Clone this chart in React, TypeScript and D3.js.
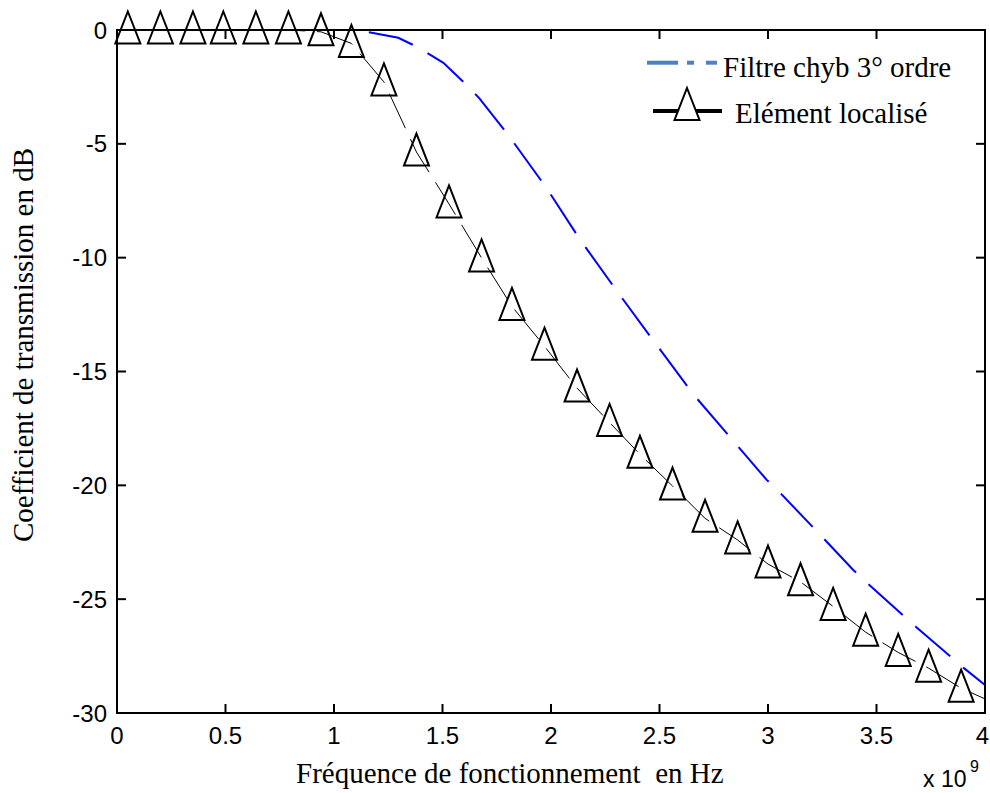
import React from "react";
import * as d3 from "d3";

// Filtre chyb 3° ordre (blue dashed curve), x in GHz (x 10^9 Hz), y in dB
const chebX = [0, 1.083, 1.174, 1.296, 1.381, 1.504, 1.612, 1.67, 1.803, 1.977, 2.137, 2.31, 2.484, 2.66, 2.853, 2.994, 3.051, 3.255, 3.393, 3.462, 3.681, 3.903, 4.0];
const chebY = [0, 0, -0.12, -0.34, -0.73, -1.44, -2.42, -3.0, -4.61, -6.91, -9.25, -11.55, -13.8, -16.05, -18.19, -19.76, -20.28, -22.32, -23.72, -24.33, -26.21, -28.03, -28.77];

// Elément localisé (markers)
const localX = [0.05, 0.2, 0.35, 0.49, 0.64, 0.79, 0.94, 1.08, 1.23, 1.38, 1.53, 1.68, 1.82, 1.97, 2.12, 2.27, 2.41, 2.56, 2.71, 2.86, 3.0, 3.15, 3.3, 3.45, 3.6, 3.74, 3.89];
const localY = [0, 0, 0, 0, 0, 0, -0.08, -0.59, -2.28, -5.36, -7.64, -10.01, -12.14, -13.89, -15.73, -17.24, -18.64, -20.03, -21.45, -22.4, -23.46, -24.24, -25.32, -26.45, -27.34, -28.03, -28.91];
// line ends of the same series
const localLineStart = [0, 0];
const localLineEnd = [4.0, -29.38];

const xTicks = [0, 0.5, 1, 1.5, 2, 2.5, 3, 3.5, 4];
const xTickLabels = ["0", "0.5", "1", "1.5", "2", "2.5", "3", "3.5", "4"];
const yTicks = [0, -5, -10, -15, -20, -25, -30];
const yTickLabels = ["0", "-5", "-10", "-15", "-20", "-25", "-30"];

const legendLabels = ["Filtre chyb 3° ordre", "Elément localisé"];
const xLabel = "Fréquence de fonctionnement  en Hz";
const yLabel = "Coefficient de transmission en dB";

const W = 990;
const H = 793;
const L = 117, R = 985, T = 30, B = 713;

const SERIF = "'Liberation Serif', 'Times New Roman', serif";
const SANS = "'Liberation Sans', Arial, sans-serif";

function triPath(cx: number, cy: number) {
  const hw = 12.5, hh = 16, off = 2.5;
  return `M${cx},${cy - hh - off} L${cx + hw},${cy + hh - off} L${cx - hw},${cy + hh - off} Z`;
}

export default function App() {
  const x = d3.scaleLinear().domain([0, 4]).range([L, R]);
  const y = d3.scaleLinear().domain([0, -30]).range([T, B]);

  const cheb = chebX.map((v, i) => [v, chebY[i]] as [number, number]);
  const local = localX.map((v, i) => [v, localY[i]] as [number, number]);
  const localLine = [localLineStart as [number, number], ...local, localLineEnd as [number, number]];

  const line = d3
    .line<[number, number]>()
    .x((d) => x(d[0]))
    .y((d) => y(d[1]))
    .curve(d3.curveLinear);

  const tickLen = 9;

  return (
    <svg width={W} height={H} style={{ position: "absolute", left: 0, top: 0, background: "#fff" }}>
      <rect x={0} y={0} width={W} height={H} fill="#fff" />
      {/* data */}
      <path d={line(cheb) || ""} fill="none" stroke="#0000ff" strokeWidth={2} strokeDasharray="46,17" />
      <path d={line(localLine) || ""} fill="none" stroke="#000" strokeWidth={1} strokeDasharray="38,12" />
      {local.map((d, i) => (
        <path key={i} d={triPath(x(d[0]), y(d[1]))} fill="none" stroke="#000" strokeWidth={2} strokeLinejoin="miter" />
      ))}

      {/* axes box */}
      <rect x={L} y={T} width={R - L} height={B - T} fill="none" stroke="#000" strokeWidth={2} />
      {xTicks.map((t, i) => (
        <g key={"xt" + i}>
          <line x1={x(t)} x2={x(t)} y1={B} y2={B - tickLen} stroke="#000" strokeWidth={2} />
          <line x1={x(t)} x2={x(t)} y1={T} y2={T + tickLen} stroke="#000" strokeWidth={2} />
          <text
            x={i === xTicks.length - 1 ? x(t) + 4 : x(t)}
            y={744}
            textAnchor={i === xTicks.length - 1 ? "end" : "middle"}
            fontFamily={SANS}
            fontSize={24}
            fill="#000"
          >
            {xTickLabels[i]}
          </text>
        </g>
      ))}
      {yTicks.map((t, i) => (
        <g key={"yt" + i}>
          <line x1={L} x2={L + tickLen} y1={y(t)} y2={y(t)} stroke="#000" strokeWidth={2} />
          <line x1={R} x2={R - tickLen} y1={y(t)} y2={y(t)} stroke="#000" strokeWidth={2} />
          <text x={107} y={y(t) + 8.5} textAnchor="end" fontFamily={SANS} fontSize={24} fill="#000">
            {yTickLabels[i]}
          </text>
        </g>
      ))}

      {/* exponent */}
      <text x={923} y={787} fontFamily={SANS} fontSize={23} fill="#000">x 10</text>
      <text x={970} y={772} fontFamily={SANS} fontSize={16} fill="#000">9</text>

      {/* axis labels */}
      <text x={296} y={783} fontFamily={SERIF} fontSize={29} fill="#000" style={{ whiteSpace: "pre" }}>
        {xLabel}
      </text>
      <text
        transform={`translate(33,345) rotate(-90)`}
        textAnchor="middle"
        fontFamily={SERIF}
        fontSize={29}
        fill="#000"
      >
        {yLabel}
      </text>

      {/* legend */}
      <line x1={647} x2={678} y1={62.7} y2={62.7} stroke="#4f81bd" strokeWidth={4} />
      <line x1={687} x2={694} y1={62.7} y2={62.7} stroke="#4f81bd" strokeWidth={4} />
      <line x1={706} x2={717} y1={62.7} y2={62.7} stroke="#4f81bd" strokeWidth={4} />
      <text x={723} y={77} fontFamily={SERIF} fontSize={29} fill="#000">
        {legendLabels[0]}
      </text>
      <line x1={653} x2={722} y1={111} y2={111} stroke="#000" strokeWidth={4} />
      <path d="M687,88 L699.5,120 L674.5,120 Z" fill="#fff" stroke="#000" strokeWidth={2} />
      <text x={735} y={122.7} fontFamily={SERIF} fontSize={29} fill="#000">
        {legendLabels[1]}
      </text>
    </svg>
  );
}
